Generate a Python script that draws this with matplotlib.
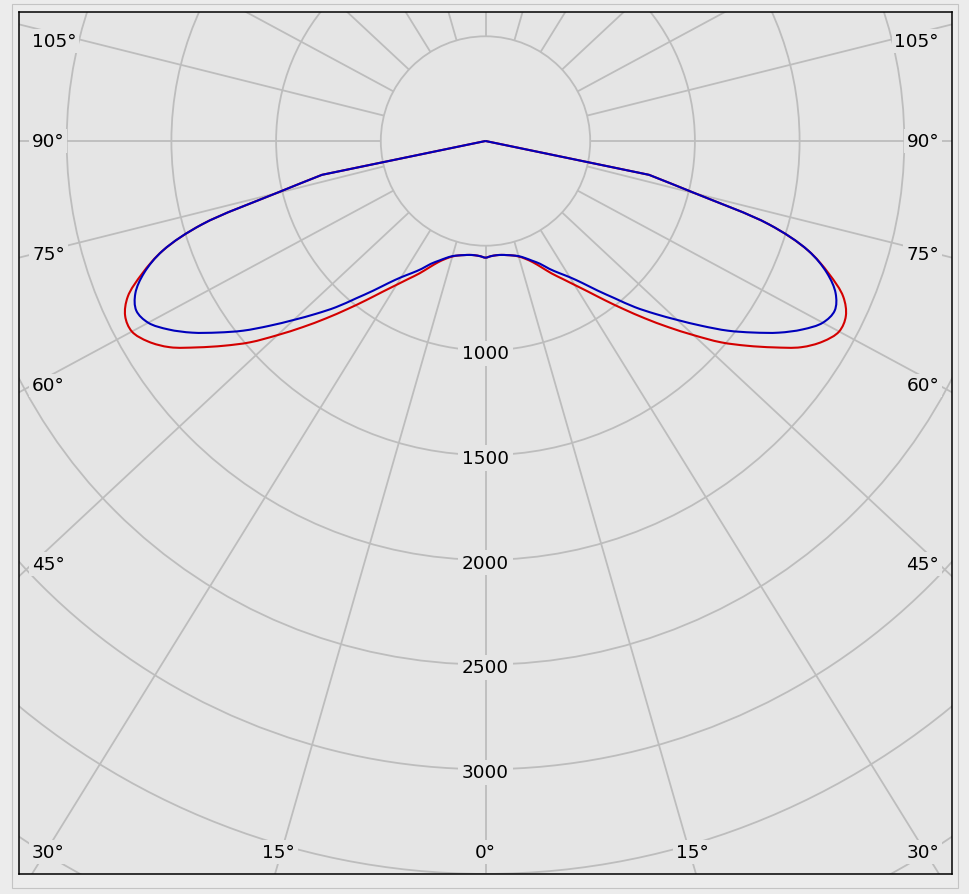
import numpy as np
import matplotlib
matplotlib.use("Agg")
import matplotlib.pyplot as plt
from matplotlib.patches import Ellipse, Rectangle, PathPatch
from matplotlib.path import Path

# ---------------- data ----------------
angles_deg = [0, 2.5, 5, 7.5, 10, 12.5, 15, 17.5, 20, 22.5, 25, 27.5, 30, 32.5, 35,
              37.5, 40, 42.5, 45, 47.5, 50, 52.5, 55, 57.5, 60, 62.5, 65, 67.5, 70,
              72.5, 75, 77.5, 80, 85, 90]
# red curve (C0-C180)
intensity_red = [597, 590, 587, 588, 593, 600, 612, 632, 660, 700, 748, 795, 850, 915, 995,
                 1085, 1185, 1292, 1405, 1525, 1630, 1735, 1840, 1910, 1950, 1940, 1885, 1775, 1640,
                 1420, 1040, 800, 0, 0, 0]
# blue curve (C90-C270)
intensity_blue = [597, 590, 587, 588, 593, 600, 610, 628, 652, 680, 722, 762, 805, 862, 935,
                  1015, 1110, 1200, 1295, 1400, 1510, 1610, 1710, 1795, 1860, 1880, 1845, 1765, 1640,
                  1420, 1040, 800, 0, 0, 0]
ring_values = [500, 1000, 1500, 2000, 2500, 3000, 3500, 4000]
ring_labels = [1000, 1500, 2000, 2500, 3000]
spoke_angles = list(range(0, 360, 15))
angle_labels = [0, 15, 30, 45, 60, 75, 90, 105]

# ---------------- layout (pixels) ----------------
W, H = 969, 895
AX_L, AX_R, AX_T, AX_B = 19, 952, 13, 875
CX, CY = 485.5, 142.0
SX, SY = 0.2094, 0.1954          # px per cd horizontally / vertically
BG_AX = "#e5e5e5"
BG_FIG = "#ececec"
GRID = "#bdbdbd"
FS = 13.3

fig = plt.figure(figsize=(W / 100, H / 100), dpi=100, facecolor=BG_FIG)
fig.patches.append(Rectangle((12 / W, (H - 889) / H), (958 - 12) / W, (889 - 5) / H,
                             transform=fig.transFigure, fill=False, edgecolor="#c4c4c4",
                             linewidth=0.8, zorder=0))
ax = fig.add_axes([AX_L / W, (H - AX_B) / H, (AX_R - AX_L) / W, (AX_B - AX_T) / H])
ax.set_facecolor(BG_AX)
ax.set_xlim((AX_L - CX) / SX, (AX_R - CX) / SX)
ax.set_ylim(-(AX_B - CY) / SY, (CY - AX_T) / SY)
ax.set_xticks([])
ax.set_yticks([])
for s in ax.spines.values():
    s.set_color("black")
    s.set_linewidth(1.1)

# rings (round in pixels)
for r in ring_values:
    ax.add_patch(Ellipse((0, 0), 2 * r, 2 * r * SX / SY, fill=False, edgecolor=GRID,
                         linewidth=1.3, zorder=1))

# spokes, starting at the innermost ring
k = SY / SX
for a in spoke_angles:
    t = np.radians(a)
    dx, dy = np.sin(t), -np.cos(t)
    t0 = ring_values[0] / np.sqrt(np.sin(t) ** 2 + (np.cos(t) * k) ** 2)
    ax.plot([dx * t0, dx * 20000], [dy * t0, dy * 20000], color=GRID, linewidth=1.3,
            zorder=1, solid_capstyle="butt")


# curves: smooth (centripetal Catmull-Rom as cubic Bezier) through the data points,
# straight rays to the origin where the intensity falls to zero
def curve_path(vals):
    ang = np.radians(np.array(angles_deg))
    v = np.array(vals, dtype=float)
    keep = v > 0
    a, v = ang[keep], v[keep]
    th = np.concatenate([-a[::-1], a[1:]])
    rr = np.concatenate([v[::-1], v[1:]])
    P = np.column_stack([rr * np.sin(th) * SX, -rr * np.cos(th) * SY])
    ext = np.vstack([2 * P[0] - P[1], P, 2 * P[-1] - P[-2]])
    verts = [np.zeros(2), P[0]]
    codes = [Path.MOVETO, Path.LINETO]
    for i in range(len(P) - 1):
        p0, p1, p2, p3 = ext[i], ext[i + 1], ext[i + 2], ext[i + 3]
        d1 = np.linalg.norm(p1 - p0) ** 0.5
        d2 = np.linalg.norm(p2 - p1) ** 0.5
        d3 = np.linalg.norm(p3 - p2) ** 0.5
        b1 = (d1 ** 2 * p2 - d2 ** 2 * p0 + (2 * d1 ** 2 + 3 * d1 * d2 + d2 ** 2) * p1) / (3 * d1 * (d1 + d2))
        b2 = (d3 ** 2 * p1 - d2 ** 2 * p3 + (2 * d3 ** 2 + 3 * d3 * d2 + d2 ** 2) * p2) / (3 * d3 * (d3 + d2))
        verts += [b1, b2, p2]
        codes += [Path.CURVE4] * 3
    verts.append(np.zeros(2))
    codes.append(Path.LINETO)
    verts = np.array(verts) / np.array([SX, SY])
    return Path(verts, codes)


for vals, col in [(intensity_red, "#d40000"), (intensity_blue, "#0000bb")]:
    ax.add_patch(PathPatch(curve_path(vals), fill=False, edgecolor=col, linewidth=1.5,
                           zorder=3, joinstyle="round"))

# ring labels
LABEL_DROP = 3  # px
for r in ring_labels:
    ax.text(0, -r * SX / SY - LABEL_DROP / SY, str(r), ha="center", va="center", fontsize=FS,
            color="black", zorder=4,
            bbox=dict(boxstyle="square,pad=0.2", facecolor=BG_AX, edgecolor="none"))

# angle labels, placed where each spoke meets the inset frame
INSET = 13
xl, xr, yt, yb = AX_L + INSET, AX_R - INSET, AX_T + INSET, AX_B - INSET
TOP_MIN = 42
HALF_W = 20


def to_data(px, py):
    return (px - CX) / SX, (CY - py) / SY


for a in angle_labels:
    t = np.radians(a)
    for side in (-1, 1):
        ux, uy = side * np.sin(t) * SX, np.cos(t) * SY      # pixel direction (y down)
        cands = []
        if ux < 0:
            cands.append(((xl - CX) / ux, "left"))
        if ux > 0:
            cands.append(((xr - CX) / ux, "right"))
        if uy > 0:
            cands.append(((yb - CY) / uy, "bottom"))
        if uy < 0:
            cands.append(((yt - CY) / uy, "top"))
        s, edge = min(cands)
        px, py = CX + s * ux, CY + s * uy
        if edge == "bottom":
            ha, va = "center", "bottom"
            if px - HALF_W < xl:
                px, ha = xl, "left"
            if px + HALF_W > xr:
                px, ha = xr, "right"
        else:
            ha = "left" if edge == "left" else "right"
            va = "center"
            py = max(py, TOP_MIN)
        if a == 0 and side == 1:
            continue
        x, y = to_data(px, py)
        ax.text(x, y, f"{a}°", ha=ha, va=va, fontsize=FS, color="black", zorder=4,
                bbox=dict(boxstyle="square,pad=0.15", facecolor=BG_AX, edgecolor="none"))

fig.savefig("out.png", dpi=100, facecolor=BG_FIG)
